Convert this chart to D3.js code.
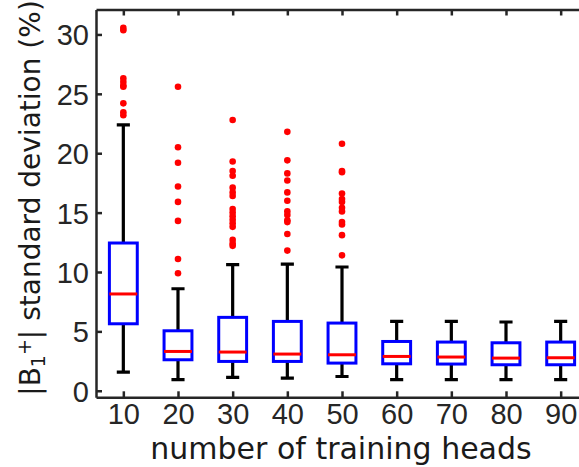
<!DOCTYPE html>
<html>
<head>
<meta charset="utf-8">
<script src="https://cdn.jsdelivr.net/npm/d3@7"></script>
<style>
  body { margin: 0; background: #fff; }
  svg { display: block; font-family: "DejaVu Sans", Verdana, sans-serif; }
</style>
</head>
<body>
<svg id="chart" width="579" height="467"></svg>
<script>
// number of training heads
var heads = [10, 20, 30, 40, 50, 60, 70, 80, 90];
// box statistics (%)
var whiskerLow  = [1.57, 0.93, 1.12, 1.07, 1.20, 0.93, 0.93, 0.93, 0.93];
var q1          = [5.64, 2.61, 2.47, 2.47, 2.33, 2.27, 2.25, 2.19, 2.19];
var medians     = [8.15, 3.31, 3.26, 3.09, 3.03, 2.89, 2.84, 2.75, 2.78];
var q3          = [12.44, 5.05, 6.18, 5.84, 5.70, 4.15, 4.10, 4.04, 4.10];
var whiskerHigh = [22.38, 8.59, 10.62, 10.67, 10.42, 5.84, 5.84, 5.79, 5.84];
var outliers = [
  [30.55, 30.35, 26.3, 26.0, 25.7, 25.6, 24.2, 23.45, 23.2],
  [25.6, 20.5, 19.2, 17.2, 15.9, 14.3, 11.1, 9.9],
  [22.8, 19.3, 18.5, 18.1, 17.1, 16.7, 16.4, 15.3, 15.0, 14.7, 14.4, 14.1, 13.8, 12.7, 12.4, 12.2],
  [21.8, 19.4, 18.3, 17.7, 16.7, 16.0, 15.1, 14.8, 14.35, 14.2, 13.2, 11.8],
  [20.8, 18.5, 18.4, 16.6, 16.15, 15.9, 15.4, 15.1, 14.2, 14.0, 13.1, 11.4],
  [], [], [], []
];
var yTicks = [0, 5, 10, 15, 20, 25, 30];

var svg = d3.select("#chart");
var axisColor = "#262626";

var x = d3.scaleLinear().domain([5, 95]).range([96, 588]);
var y = d3.scaleLinear().domain([-0.55, 32.1]).range([397.3, 9.5]);

var boxW = 5.1, capW = 2.4;   // in x units

var rows = heads.map(function(h, i) {
  return {h: h, lo: whiskerLow[i], q1: q1[i], med: medians[i], q3: q3[i], hi: whiskerHigh[i], out: outliers[i]};
});

var g = svg.append("g");

// whiskers
g.selectAll(".wh").data(rows).enter().append("path")
  .attr("class", "wh")
  .attr("fill", "none")
  .attr("stroke", "#000")
  .attr("stroke-width", 3.2)
  .attr("d", function(d) {
    var cx = x(d.h), hw = x(d.h + capW / 2) - cx;
    return "M" + cx + "," + y(d.q3) + "V" + y(d.hi) +
      "M" + (cx - hw) + "," + y(d.hi) + "H" + (cx + hw) +
      "M" + cx + "," + y(d.q1) + "V" + y(d.lo) +
      "M" + (cx - hw) + "," + y(d.lo) + "H" + (cx + hw);
  });

// boxes
g.selectAll(".box").data(rows).enter().append("rect")
  .attr("class", "box")
  .attr("x", function(d) { return x(d.h - boxW / 2); })
  .attr("width", function(d) { return x(d.h + boxW / 2) - x(d.h - boxW / 2); })
  .attr("y", function(d) { return y(d.q3); })
  .attr("height", function(d) { return y(d.q1) - y(d.q3); })
  .attr("fill", "none")
  .attr("stroke", "#0000ff")
  .attr("stroke-width", 3);

// medians
g.selectAll(".med").data(rows).enter().append("line")
  .attr("x1", function(d) { return x(d.h - boxW / 2); })
  .attr("x2", function(d) { return x(d.h + boxW / 2); })
  .attr("y1", function(d) { return y(d.med); })
  .attr("y2", function(d) { return y(d.med); })
  .attr("stroke", "#ff0000")
  .attr("stroke-width", 3);

// outliers
var pts = [];
rows.forEach(function(d) { d.out.forEach(function(v) { pts.push({h: d.h, v: v}); }); });
g.selectAll(".out").data(pts).enter().append("circle")
  .attr("cx", function(d) { return x(d.h); })
  .attr("cy", function(d) { return y(d.v); })
  .attr("r", 3.3)
  .attr("fill", "#ff0000");

// axes (ticks inside, box on)
function styleAxis(sel) {
  sel.selectAll("path.domain").attr("stroke", axisColor).attr("stroke-width", 2.5);
  sel.selectAll(".tick line").attr("stroke", axisColor).attr("stroke-width", 2.5);
  sel.selectAll(".tick text").attr("fill", axisColor).style("font-size", "29px");
}

var yAxis = svg.append("g")
  .attr("transform", "translate(96,0)")
  .call(d3.axisLeft(y).tickValues(yTicks).tickSizeInner(-6).tickSizeOuter(0).tickPadding(7));
styleAxis(yAxis);
yAxis.selectAll(".tick text").attr("dy", "0.36em");

var xAxis = svg.append("g")
  .attr("transform", "translate(0,397.3)")
  .call(d3.axisBottom(x).tickValues(heads).tickSizeInner(-6).tickSizeOuter(0).tickPadding(6));
styleAxis(xAxis);

var topAxis = svg.append("g")
  .attr("transform", "translate(0,9.5)")
  .call(d3.axisTop(x).tickValues(heads).tickSizeInner(-6).tickSizeOuter(0).tickFormat(""));
styleAxis(topAxis);

var rightAxis = svg.append("g")
  .attr("transform", "translate(588,0)")
  .call(d3.axisRight(y).tickValues(yTicks).tickSizeInner(-6).tickSizeOuter(0).tickFormat(""));
styleAxis(rightAxis);

// axis titles
svg.append("text")
  .attr("x", 341)
  .attr("y", 459)
  .attr("text-anchor", "middle")
  .attr("fill", "#1a1a1a")
  .style("font-size", "30px")
  .text("number of training heads");

var yl = svg.append("text")
  .attr("transform", "translate(40,198) rotate(-90)")
  .attr("text-anchor", "middle")
  .attr("fill", "#1a1a1a")
  .style("font-size", "28px");
yl.append("tspan").text("|B");
yl.append("tspan").attr("baseline-shift", "-25%").style("font-size", "19px").text("1");
yl.append("tspan").attr("baseline-shift", "45%").style("font-size", "19px").text("+");
yl.append("tspan").text("| standard deviation (%)");
</script>
</body>
</html>
